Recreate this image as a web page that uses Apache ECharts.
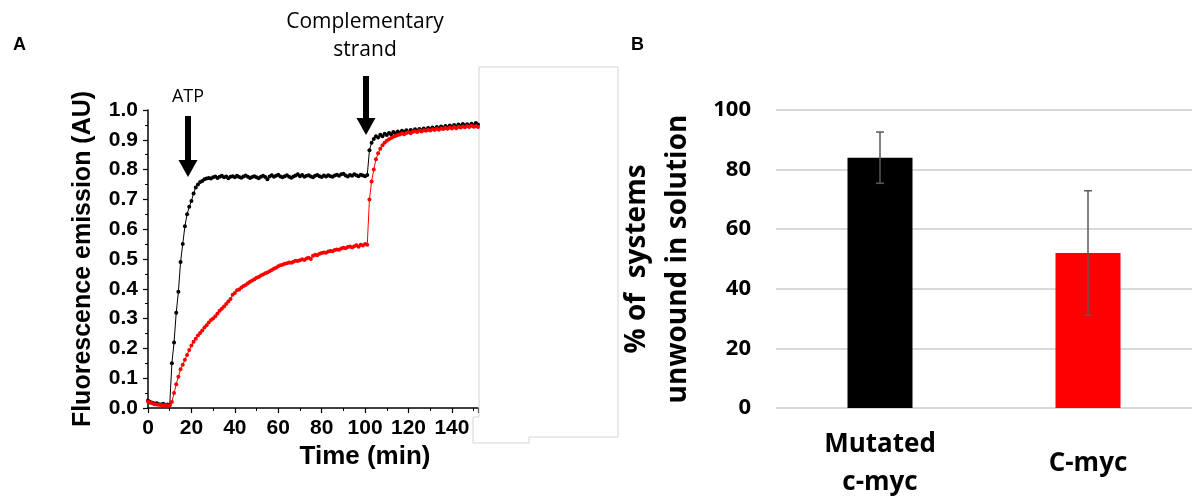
<!DOCTYPE html>
<html>
<head>
<meta charset="utf-8">
<script src="https://cdn.jsdelivr.net/npm/echarts@6/dist/echarts.min.js"></script>
<style>
html,body{margin:0;padding:0;background:#fff;}
#chart{width:1192px;height:499px;}
</style>
</head>
<body>
<div id="chart"></div>
<script>
// ---------- Panel A data ----------
const timeMin = [
  0,1,2,3,4,5,6,7,8,9,
  10,11,12,13,14,15,16,17,18,19,
  20,21,22,23,24,25,26,27,28,29,
  30,31,32,33,34,35,36,37,38,39,
  40,41,42,43,44,45,46,47,48,49,
  50,51,52,53,54,55,56,57,58,59,
  60,61,62,63,64,65,66,67,68,69,
  70,71,72,73,74,75,76,77,78,79,
  80,81,82,83,84,85,86,87,88,89,
  90,91,92,93,94,95,96,97,98,99,
  100,101,102,103,104,105,106,107,108,109,
  110,111,112,113,114,115,116,117,118,119,
  120,121,122,123,124,125,126,127,128,129,
  130,131,132,133,134,135,136,137,138,139,
  140,141,142,143,144,145,146,147,148,149,
  150,151,152
];
const blackValues = [
  0.025,0.020,0.018,0.015,0.016,0.013,0.012,0.014,0.011,0.012,
  0.010,0.150,0.220,0.320,0.390,0.490,0.550,0.610,0.650,0.675,
  0.695,0.720,0.740,0.750,0.758,0.762,0.768,0.770,0.772,0.770,
  0.774,0.777,0.772,0.776,0.779,0.774,0.777,0.771,0.776,0.778,
  0.774,0.779,0.775,0.773,0.777,0.780,0.776,0.772,0.775,0.778,
  0.774,0.771,0.776,0.779,0.775,0.768,0.777,0.781,0.776,0.779,
  0.783,0.777,0.774,0.778,0.781,0.776,0.773,0.777,0.780,0.784,
  0.778,0.782,0.776,0.779,0.781,0.777,0.774,0.779,0.782,0.778,
  0.775,0.780,0.777,0.781,0.778,0.776,0.780,0.783,0.779,0.784,
  0.786,0.780,0.777,0.782,0.779,0.784,0.781,0.778,0.783,0.780,
  0.778,0.782,0.865,0.890,0.903,0.912,0.908,0.917,0.912,0.920,
  0.916,0.923,0.919,0.926,0.921,0.928,0.924,0.930,0.925,0.932,
  0.927,0.933,0.929,0.935,0.930,0.936,0.932,0.938,0.933,0.940,
  0.935,0.941,0.936,0.943,0.938,0.945,0.940,0.946,0.941,0.948,
  0.943,0.950,0.945,0.951,0.946,0.953,0.948,0.952,0.947,0.954,
  0.949,0.956,0.951
];
const redValues = [
  0.022,0.018,0.016,0.013,0.012,0.011,0.010,0.009,0.010,0.008,
  0.009,0.020,0.050,0.080,0.105,0.130,0.145,0.162,0.178,0.195,
  0.210,0.222,0.232,0.243,0.252,0.260,0.270,0.278,0.287,0.295,
  0.300,0.308,0.317,0.326,0.333,0.341,0.349,0.357,0.366,0.380,
  0.386,0.395,0.398,0.404,0.409,0.413,0.419,0.424,0.428,0.432,
  0.437,0.440,0.445,0.448,0.452,0.455,0.459,0.463,0.467,0.471,
  0.476,0.479,0.481,0.484,0.486,0.488,0.487,0.491,0.494,0.493,
  0.496,0.499,0.497,0.502,0.504,0.500,0.511,0.514,0.513,0.518,
  0.520,0.522,0.521,0.525,0.527,0.526,0.530,0.532,0.531,0.535,
  0.538,0.536,0.540,0.542,0.539,0.543,0.546,0.541,0.548,0.545,
  0.550,0.548,0.700,0.760,0.800,0.835,0.855,0.870,0.882,0.890,
  0.897,0.902,0.906,0.910,0.913,0.916,0.918,0.921,0.919,0.923,
  0.925,0.922,0.927,0.929,0.926,0.931,0.928,0.932,0.930,0.934,
  0.931,0.935,0.933,0.937,0.934,0.938,0.936,0.940,0.937,0.941,
  0.938,0.943,0.939,0.944,0.941,0.945,0.942,0.946,0.943,0.947,
  0.944,0.946,0.943
];

// ---------- Panel B data ----------
const barCategories = ['Mutated\nc-myc', 'C-myc'];
const barValues = [84, 52];
const barErrors = [8.6, 20.9];
const barColors = ['#000000', '#ff0000'];

// ---------- build ----------
const blackData = timeMin.map((t, i) => [t, blackValues[i]]);
const redData = timeMin.map((t, i) => [t, redValues[i]]);
const errData = barValues.map((v, i) => [i, v - barErrors[i], v + barErrors[i]]);

const AR = 'Liberation Sans, Arial, sans-serif';
const OS = 'Open Sans, sans-serif';

const chart = echarts.init(document.getElementById('chart'), null, {renderer: 'canvas'});

function arrow(cx, yTop, yHeadStart, yTip) {
  return {
    type: 'group',
    children: [
      {type: 'rect', shape: {x: cx - 3, y: yTop, width: 6, height: yHeadStart - yTop + 1}, style: {fill: '#000'}},
      {type: 'polygon', shape: {points: [[cx - 9.5, yHeadStart], [cx + 9.5, yHeadStart], [cx, yTip]]}, style: {fill: '#000'}}
    ]
  };
}

const option = {
  backgroundColor: '#fff',
  animation: false,
  grid: [
    {left: 148, right: 714, top: 110, bottom: 91, outerBoundsMode: 'none', containLabel: false},
    {left: 776, right: 0, top: 110, bottom: 91, outerBoundsMode: 'none', containLabel: false}
  ],
  xAxis: [
    {
      gridIndex: 0, type: 'value', min: 0, max: 152, interval: 20,
      name: 'Time (min)', nameLocation: 'middle', nameGap: 34,
      nameTextStyle: {fontFamily: AR, fontWeight: 'bold', fontSize: 26, color: '#000', padding: [0, 0, 0, 104]},
      axisLine: {show: true, onZero: false, lineStyle: {color: '#000', width: 1.5}},
      axisTick: {show: true, inside: false, length: 5, lineStyle: {color: '#000', width: 1.2}},
      minorTick: {show: true, splitNumber: 2, length: 3, lineStyle: {color: '#000', width: 1}},
      axisLabel: {fontFamily: AR, fontWeight: 'bold', fontSize: 21, color: '#000', margin: 10,
        showMaxLabel: false},
      splitLine: {show: false}
    },
    {
      gridIndex: 1, type: 'category', data: barCategories,
      axisLine: {show: false}, axisTick: {show: false},
      axisLabel: {fontFamily: OS, fontWeight: 'bold', fontSize: 26, color: '#000', margin: 56,
        verticalAlign: 'middle', lineHeight: 38, interval: 0},
      splitLine: {show: false}
    }
  ],
  yAxis: [
    {
      gridIndex: 0, type: 'value', min: 0, max: 1, interval: 0.1,
      name: 'Fluorescence emission (AU)', nameLocation: 'middle', nameGap: 52,
      nameTextStyle: {fontFamily: AR, fontWeight: 'bold', fontSize: 25, color: '#000'},
      axisLine: {show: true, onZero: false, lineStyle: {color: '#000', width: 1.5}},
      axisTick: {show: true, inside: false, length: 5, lineStyle: {color: '#000', width: 1.2}},
      minorTick: {show: true, splitNumber: 2, length: 3, lineStyle: {color: '#000', width: 1}},
      axisLabel: {fontFamily: AR, fontWeight: 'bold', fontSize: 21, color: '#000', margin: 10,
        formatter: v => v.toFixed(1)},
      splitLine: {show: false}
    },
    {
      gridIndex: 1, type: 'value', min: 0, max: 100, interval: 20,
      name: '% of  systems\nunwound in solution', nameLocation: 'middle', nameGap: 77,
      nameTextStyle: {fontFamily: OS, fontWeight: 'bold', fontSize: 28, color: '#000', lineHeight: 41},
      axisLine: {show: false}, axisTick: {show: false},
      axisLabel: {fontFamily: OS, fontWeight: 'bold', fontSize: 22, color: '#000', margin: 25},
      splitLine: {show: true, lineStyle: {color: '#d9d9d9', width: 2}}
    }
  ],
  series: [
    {
      type: 'line', xAxisIndex: 0, yAxisIndex: 0, data: blackData,
      symbol: 'circle', symbolSize: 4, showAllSymbol: true,
      lineStyle: {color: '#000', width: 1}, itemStyle: {color: '#000'}, z: 3
    },
    {
      type: 'line', xAxisIndex: 0, yAxisIndex: 0, data: redData,
      symbol: 'circle', symbolSize: 4, showAllSymbol: true,
      lineStyle: {color: '#ff0000', width: 1}, itemStyle: {color: '#ff0000'}, z: 4
    },
    {
      type: 'bar', xAxisIndex: 1, yAxisIndex: 1, barWidth: 65,
      data: barValues.map((v, i) => ({value: v, itemStyle: {color: barColors[i]}})), z: 2
    },
    {
      type: 'custom', xAxisIndex: 1, yAxisIndex: 1, data: errData, z: 5,
      renderItem: function (params, api) {
        const x = api.value(0);
        const lo = api.coord([x, api.value(1)]);
        const hi = api.coord([x, api.value(2)]);
        const w = 4;
        const st = {stroke: '#595959', lineWidth: 1.5};
        return {
          type: 'group',
          children: [
            {type: 'line', shape: {x1: lo[0], y1: lo[1], x2: hi[0], y2: hi[1]}, style: st},
            {type: 'line', shape: {x1: hi[0] - w, y1: hi[1], x2: hi[0] + w, y2: hi[1]}, style: st},
            {type: 'line', shape: {x1: lo[0] - w, y1: lo[1], x2: lo[0] + w, y2: lo[1]}, style: st}
          ]
        };
      }
    }
  ],
  graphic: [
    {type: 'polyline', shape: {points: [[479, 67], [618, 67], [618, 437], [529, 437], [529, 443], [473, 443], [473, 417], [479, 417], [479, 67]]},
      style: {stroke: '#d4d4d4', lineWidth: 1, fill: null}, z: 1},
    {type: 'text', left: 13, top: 36, style: {text: 'A', font: 'bold 18px ' + AR, fill: '#000'}},
    {type: 'text', left: 631, top: 36, style: {text: 'B', font: 'bold 18px ' + AR, fill: '#000'}},
    {type: 'text', x: 188, y: 97, style: {text: 'ATP', font: '18px ' + OS, fill: '#000', align: 'center', verticalAlign: 'middle'}},
    {type: 'text', x: 365, y: 36, style: {text: 'Complementary\nstrand', font: '21px ' + OS, fill: '#000', align: 'center', verticalAlign: 'middle', lineHeight: 28}},
    arrow(188, 116, 160, 177),
    arrow(366, 76, 118, 135)
  ]
};
chart.setOption(option);
</script>
</body>
</html>
